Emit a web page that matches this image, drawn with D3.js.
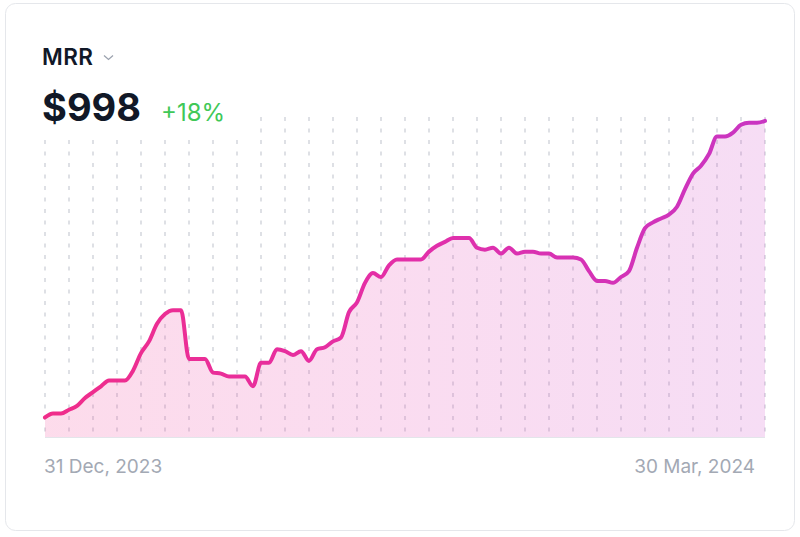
<!DOCTYPE html>
<html>
<head>
<meta charset="utf-8">
<script src="https://cdn.jsdelivr.net/npm/d3@7"></script>
<style>
  html, body { margin: 0; padding: 0; background: #fff; }
  body { width: 800px; height: 537px; overflow: hidden; font-family: Inter, "Noto Sans", sans-serif; }
</style>
</head>
<body>
<div id="chart"></div>
<script>
// MRR, one value per day, 31 Dec 2023 .. 30 Mar 2024
const startDate = '2023-12-31';
const endDate = '2024-03-30';
const mrrValues = [
  846, 848, 848, 850, 852, 856, 859, 862, 865, 865,
  865, 870, 879, 885, 894, 899, 901, 901, 876, 876,
  876, 869, 868.5, 867, 867, 867, 862, 874, 874, 881,
  880, 878, 880, 875, 881, 882, 885, 887, 900, 905,
  915, 920, 918, 924, 927, 927, 927, 927, 931, 934,
  936, 938, 938, 938, 933, 932, 933, 930, 933, 930,
  931, 931, 930, 930, 928, 928, 928, 927, 921, 916,
  916, 915, 918, 921, 933, 943, 946, 948, 950, 954,
  963, 971, 975, 981, 990, 990, 992, 996, 997, 997,
  998
];
const yDomain = [836, 1000];
const headline = { metric: 'MRR', value: '$998', change: '+18%' };
const dateLabels = ['31 Dec, 2023', '30 Mar, 2024'];

const W = 800, H = 537;
const margin = { left: 45, right: 35, top: 117, bottom: 100 };

const parse = d3.utcParse('%Y-%m-%d');
const t0 = parse(startDate);
const data = mrrValues.map((v, i) => ({ date: d3.utcDay.offset(t0, i), value: v }));

const svg = d3.select('#chart').append('svg')
  .attr('width', W).attr('height', H);

// card
svg.append('rect')
  .attr('x', 5.5).attr('y', 3.5)
  .attr('width', 789).attr('height', 527)
  .attr('rx', 10)
  .attr('fill', '#fff')
  .attr('stroke', '#e5e7eb');

const x = d3.scaleUtc()
  .domain([t0, parse(endDate)])
  .range([margin.left, W - margin.right]);

const y = d3.scaleLinear()
  .domain(yDomain)
  .range([H - margin.bottom, margin.top]);

const defs = svg.append('defs');
const grad = defs.append('linearGradient')
  .attr('id', 'lineGrad')
  .attr('gradientUnits', 'userSpaceOnUse')
  .attr('x1', x.range()[0]).attr('x2', x.range()[1])
  .attr('y1', 0).attr('y2', 0);
grad.append('stop').attr('offset', '0%').attr('stop-color', '#f02d8a');
grad.append('stop').attr('offset', '50%').attr('stop-color', '#e32fa8');
grad.append('stop').attr('offset', '100%').attr('stop-color', '#c935c2');

// vertical dashed grid every 3 days
const gridDates = d3.range(0, data.length, 3).map(i => data[i].date);
svg.append('g')
  .selectAll('line')
  .data(gridDates)
  .join('line')
  .attr('x1', d => x(d)).attr('x2', d => x(d))
  .attr('y1', margin.top).attr('y2', H - margin.bottom)
  .attr('stroke', '#cdd0d8')
  .attr('stroke-width', 1.3)
  .attr('stroke-dasharray', '4 7.5');

// area + line
const area = d3.area()
  .x(d => x(d.date))
  .y0(y(yDomain[0]))
  .y1(d => y(d.value))
  .curve(d3.curveMonotoneX);

const line = d3.line()
  .x(d => x(d.date))
  .y(d => y(d.value))
  .curve(d3.curveMonotoneX);

svg.append('path')
  .datum(data)
  .attr('d', area)
  .attr('fill', 'url(#lineGrad)')
  .attr('fill-opacity', 0.17);

svg.append('line')
  .attr('x1', x.range()[0]).attr('x2', x.range()[1])
  .attr('y1', y(yDomain[0]) + 0.5).attr('y2', y(yDomain[0]) + 0.5)
  .attr('stroke', '#e3e5ea');

svg.append('path')
  .datum(data)
  .attr('d', line)
  .attr('fill', 'none')
  .attr('stroke', 'url(#lineGrad)')
  .attr('stroke-width', 4)
  .attr('stroke-linejoin', 'round')
  .attr('stroke-linecap', 'round');

// header (white box covers the grid behind it)
const header = svg.append('g');
header.append('rect')
  .attr('x', 40).attr('y', 20)
  .attr('width', 208).attr('height', 116)
  .attr('fill', '#fff');

header.append('text')
  .attr('x', 42).attr('y', 64.5)
  .attr('font-size', 22.5).attr('font-weight', 600)
  .attr('letter-spacing', 0.4)
  .attr('fill', '#111827')
  .text(headline.metric);

header.append('path')
  .attr('d', 'M104,55.5 L108.5,59.5 L113,55.5')
  .attr('fill', 'none')
  .attr('stroke', '#9ca3af')
  .attr('stroke-width', 1.3);

header.append('text')
  .attr('x', 42).attr('y', 120.5)
  .attr('font-size', 38).attr('font-weight', 700)
  .attr('fill', '#111827')
  .text(headline.value);

header.append('text')
  .attr('x', 161).attr('y', 120.5)
  .attr('font-size', 24).attr('font-weight', 400)
  .attr('fill', '#40c857')
  .text(headline.change);

// date labels
svg.append('text')
  .attr('x', 44).attr('y', 472.5)
  .attr('font-size', 19)
  .attr('fill', '#a3a9b4')
  .text(dateLabels[0]);

svg.append('text')
  .attr('x', 755).attr('y', 472.5)
  .attr('text-anchor', 'end')
  .attr('font-size', 19)
  .attr('fill', '#a3a9b4')
  .text(dateLabels[1]);
</script>
</body>
</html>
